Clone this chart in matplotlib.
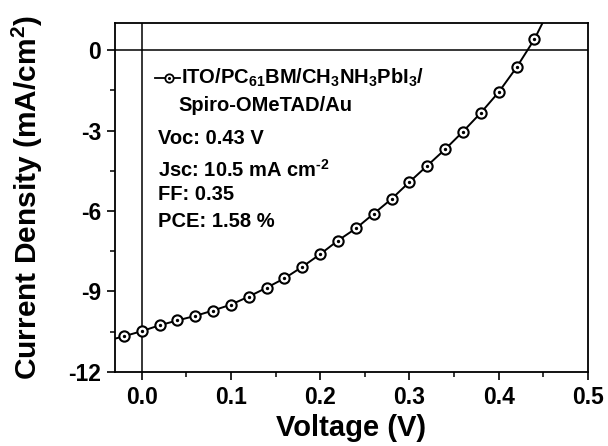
import matplotlib
matplotlib.use('Agg')
import matplotlib.pyplot as plt
from matplotlib.ticker import MultipleLocator

plt.rcParams['font.family'] = 'Liberation Sans'
plt.rcParams['font.weight'] = 'bold'
plt.rcParams['mathtext.fontset'] = 'custom'
plt.rcParams['mathtext.rm'] = 'Liberation Sans:bold'
plt.rcParams['mathtext.bf'] = 'Liberation Sans:bold'
plt.rcParams['mathtext.it'] = 'Liberation Sans:bold'

# measured J-V points
voltage = [-0.02, 0.00, 0.02, 0.04, 0.06, 0.08, 0.10, 0.12, 0.14, 0.16, 0.18, 0.20,
           0.22, 0.24, 0.26, 0.28, 0.30, 0.32, 0.34, 0.36, 0.38, 0.40, 0.42, 0.44]
current = [-10.67, -10.48, -10.26, -10.08, -9.91, -9.71, -9.49, -9.19, -8.86, -8.51,
           -8.08, -7.61, -7.10, -6.65, -6.10, -5.55, -4.92, -4.31, -3.70, -3.04,
           -2.34, -1.57, -0.65, 0.40]
# fitted line runs a little past the points at both ends
line_v = [-0.03] + voltage + [0.452]
line_j = [-10.76] + current + [1.2]

device = [r'ITO/PC$_{61}$BM/CH$_3$NH$_3$PbI$_3$/', 'Spiro-OMeTAD/Au']
params = ['Voc: 0.43 V', r'Jsc: 10.5 mA cm$^{\text{-}2}$', 'FF: 0.35', 'PCE: 1.58 %']

fig = plt.figure(figsize=(6.08, 4.46), dpi=100)
ax = fig.add_axes([0.189, 0.166, 0.778, 0.782])

ax.axhline(0, color='black', lw=1.1, zorder=1)
ax.axvline(0, color='black', lw=1.1, zorder=1)

ax.plot(line_v, line_j, color='black', lw=1.4, zorder=2)
ax.plot(voltage, current, ls='none', marker='o', ms=7.4, mfc='white', mec='black',
        mew=1.5, zorder=3)
ax.plot(voltage, current, ls='none', marker='o', ms=1.4, color='black', zorder=4)

# legend handle drawn by hand so the circle keeps its centre dot
ax.plot([0.0146, 0.0427], [-1.05, -1.05], color='black', lw=1.3, zorder=2)
ax.plot([0.0303], [-1.05], marker='o', ms=6, mfc='white', mec='black', mew=1.3, zorder=3)
ax.plot([0.0303], [-1.05], marker='o', ms=1.2, color='black', zorder=4)
ax.text(0.0445, -1.05, device[0], fontsize=14.5, fontweight='bold', va='center', ha='left')
ax.text(0.0415, -2.05, device[1], fontsize=14.5, fontweight='bold', va='center', ha='left')

ys = [-3.3, -4.45, -5.4, -6.4]
for t, y in zip(params, ys):
    ax.text(0.0185, y, t, fontsize=14.5, fontweight='bold', va='center', ha='left')

ax.set_xlim(-0.03, 0.5)
ax.set_ylim(-12, 1)
ax.xaxis.set_minor_locator(MultipleLocator(0.05))
ax.yaxis.set_minor_locator(MultipleLocator(1.5))
ax.set_xticks([0.0, 0.1, 0.2, 0.3, 0.4, 0.5])
ax.set_xticklabels(['0.0', '0.1', '0.2', '0.3', '0.4', '0.5'])
ax.set_yticks([0, -3, -6, -9, -12])
ax.set_yticklabels(['0', '-3', '-6', '-9', '-12'])

ax.tick_params(which='major', direction='out', length=6, width=1.2, labelsize=16.5,
               top=False, right=False, pad=4)
ax.tick_params(which='minor', direction='out', length=3.5, width=1.1,
               top=False, right=False)
for lab in ax.get_xticklabels() + ax.get_yticklabels():
    lab.set_fontweight('bold')
for s in ax.spines.values():
    s.set_linewidth(1.3)

ax.set_xlabel('Voltage (V)', fontsize=21, fontweight='bold', labelpad=4)
ax.set_ylabel(r'Current Density (mA/cm$^2$)', fontsize=21.5, fontweight='bold')
ax.yaxis.set_label_coords(-0.148, 0.5)

fig.savefig('out.png', dpi=100)
